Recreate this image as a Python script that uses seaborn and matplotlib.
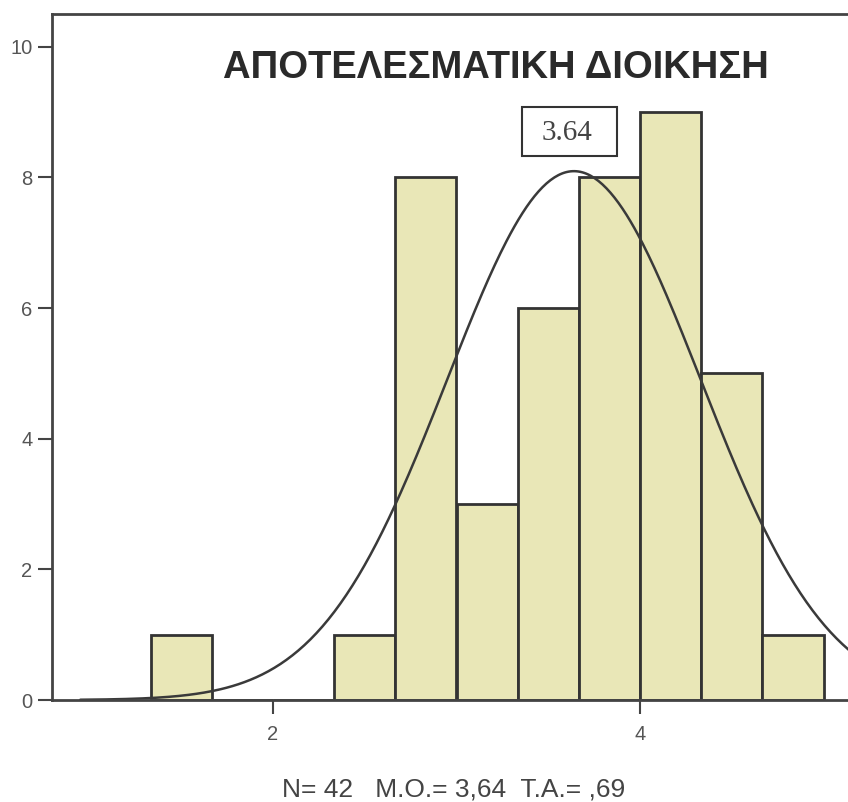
import numpy as np
import matplotlib
matplotlib.use("Agg")
import matplotlib.pyplot as plt
from matplotlib.patches import Rectangle
import seaborn as sns

# histogram data (bins of width 1/3)
bin_edges = [4/3, 5/3, 2.0, 7/3, 8/3, 3.0, 10/3, 11/3, 4.0, 13/3, 14/3, 5.0]
counts = [1, 0, 0, 1, 8, 3, 6, 8, 9, 5, 1]
n_total = 42
mean_val = 3.64
sd_val = 0.69
title = "ΑΠΟΤΕΛΕΣΜΑΤΙΚΗ ΔΙΟΙΚΗΣΗ"
footer = "N= 42   M.O.= 3,64  T.A.= ,69"

sns.set_style("white")
plt.rcParams['font.family'] = ['Liberation Sans', 'DejaVu Sans']

fig = plt.figure(figsize=(8.48, 8.02), dpi=100)
ax = fig.add_axes([52/848, 102/802, (862-52)/848, (700-14)/802])

centers = [(bin_edges[i] + bin_edges[i+1]) / 2 for i in range(len(counts))]
sns.histplot(x=centers, weights=counts, bins=bin_edges, ax=ax,
             color='#e9e7b7', edgecolor='#333333', linewidth=2, alpha=1)

# normal curve from the reported mean / sd
bw = bin_edges[1] - bin_edges[0]
xs = np.linspace(0.95, 5.3, 400)
ys = n_total * bw / (sd_val * np.sqrt(2*np.pi)) * np.exp(-0.5*((xs-mean_val)/sd_val)**2)
sns.lineplot(x=xs, y=ys, ax=ax, color='#3a3a3a', linewidth=1.8)

ax.set_xlim(2 + (52-273)/183.5, 2 + (862-273)/183.5)
ax.set_ylim(0, 10.5)
ax.set_xticks([2, 4])
ax.set_yticks([0, 2, 4, 6, 8, 10])
ax.set_xlabel("")
ax.set_ylabel("")
ax.tick_params(axis='both', direction='out', length=10, width=1.5,
               bottom=True, left=True,
               color='#444444', labelcolor='#555555', labelsize=14.5)
ax.tick_params(axis='x', pad=8)
ax.tick_params(axis='y', pad=4)
for s in ['left', 'bottom', 'top']:
    ax.spines[s].set_color('#444444')
    ax.spines[s].set_linewidth(2)
ax.spines['right'].set_visible(False)

ax.text(2 + (496-273)/183.5, (700-68)/65.3, title, ha='center', va='center',
        fontsize=27.5, fontweight='bold', color='#2a2a2a')

# mean label box
fig.patches.append(Rectangle((522/848, 1 - 156/802), 95/848, 49/802,
                             transform=fig.transFigure, facecolor='white',
                             edgecolor='#333333', linewidth=1.5, zorder=5))
fig.text(567/848, 1 - 133/802, "3.64", ha='center', va='center',
         fontsize=21, family=['Liberation Serif'], color='#444444', zorder=6)

fig.text(454/848, 1 - 789/802, footer, ha='center', va='center',
         fontsize=19, color='#444444')

fig.savefig("out.png", dpi=100)
